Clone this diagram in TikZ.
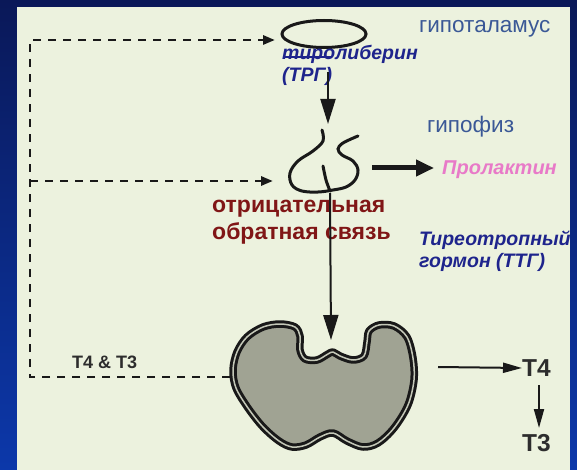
\documentclass[tikz,border=0pt]{standalone}
\usepackage{fontspec}
\setmainfont{Liberation Sans}
\usetikzlibrary{arrows.meta,shapes.geometric}

\definecolor{navytop}{RGB}{10,24,88}
\definecolor{navybot}{RGB}{12,56,170}
\definecolor{panel}{RGB}{236,242,222}
\definecolor{labelblue}{RGB}{58,88,150}
\definecolor{hormblue}{RGB}{30,36,140}
\definecolor{feedred}{RGB}{128,22,22}
\definecolor{prolpink}{RGB}{232,122,200}
\definecolor{glandgray}{RGB}{160,163,147}
\definecolor{glandrim}{RGB}{196,200,184}
\definecolor{ink}{RGB}{25,25,25}
\definecolor{tink}{RGB}{45,45,45}

\tikzset{
  organline/.style={draw=ink, line width=3pt},
  feedback/.style={draw=ink, line width=2.8pt, dash pattern=on 8pt off 7pt},
  feedtip/.style={-{Triangle[length=12pt,width=9pt]}},
  bigarrow/.style={draw=ink, line width=2pt, -{Triangle[length=25pt,width=15pt]}},
  boldarrow/.style={draw=ink, line width=5pt, -{Triangle[length=18pt,width=16pt]}},
  thinarrow/.style={draw=ink, line width=2pt, -{Triangle[length=19pt,width=10pt]}},
  organname/.style={text=labelblue, inner sep=0pt, anchor=west,
    font=\fontsize{22.5}{26}\selectfont},
  hormone/.style={text=hormblue, inner sep=0pt, anchor=north west, align=left,
    font=\fontsize{19.5}{22}\selectfont\bfseries\itshape},
  tlabel/.style={text=tink, inner sep=0pt, anchor=west,
    font=\fontsize{24.5}{28}\selectfont\bfseries},
  gland/.style={smooth cycle, tension=0.55},
}

\begin{document}
\begin{tikzpicture}[x=1pt,y=-1pt]
\useasboundingbox (0,0) rectangle (577,470);
% slide frame and panel
\shade[top color=navytop, bottom color=navybot] (0,0) rectangle (577,470);
\fill[panel] (17,7) rectangle (570,470);

\begin{scope}
\clip (17,7) rectangle (570,470);

% hypothalamus
\node[ellipse, organline, minimum width=84pt, minimum height=27pt, inner sep=0pt]
  (hypo) at (324,34) {};
\node[organname] (hypolabel) at (419,29) {гипоталамус};

% releasing hormone
\node[hormone] (trh) at (282,45) {тиролиберин\\(ТРГ)};
\draw[hormblue, line width=1.6pt] (283,57) -- (331,57);
\coordinate (trhout) at (328,72);

% pituitary
\draw[organline, line cap=round]
  plot[smooth, tension=0.6] coordinates {(322,130) (323,141) (313,151) (298,161)
    (290,173) (292,185) (302,191) (318,192) (333,190) (346,187) (355,180)
    (358,170) (353,161) (342,155) (338,149) (343,143) (358,136)};
\draw[organline, line cap=round]
  plot[smooth] coordinates {(323,166) (326,180) (330,191)};
\coordinate (pittop) at (328,124);
\coordinate (pitbot) at (330,193);
\coordinate (pitleft) at (273,181);
\coordinate (pitright) at (372,168);
\coordinate (prlin) at (434,168);
\node[organname] (pitlabel) at (427,127) {гипофиз};

% prolactin
\node[text=prolpink, inner sep=0pt, anchor=west,
  font=\fontsize{20}{22}\selectfont\bfseries\itshape] (prl) at (442,170) {Пролактин};

% feedback caption
\node[text=feedred, inner sep=0pt, anchor=north west, align=left,
  font=\fontsize{23}{26.5}\selectfont\bfseries] (neg) at (212,200)
  {отрицательная\\обратная связь};

% thyrotropin
\node[hormone] (tsh) at (419,231) {Тиреотропный\\гормон (ТТГ)};

% thyroid gland with a double rim
\def\glandpts{(263,327) (280,324) (295,327)
    (300,336) (300,350) (305,359) (317,360) (328,354) (333,352) (340,356)
    (353,360) (364,356) (367,342) (369,331) (379,325) (394,326) (407,337)
    (413,358) (414,380) (408,405) (394,428) (378,443) (363,447) (347,441)
    (333,433) (320,437) (306,445) (292,447) (279,441) (263,427) (248,408)
    (236,388) (233,370) (237,352) (247,337)}
\path[fill=glandgray] plot[gland] coordinates \glandpts;
\draw[ink, line width=7.5pt, line join=round] plot[gland] coordinates \glandpts;
\draw[glandrim, line width=1.5pt, line join=round] plot[gland] coordinates \glandpts;
\coordinate (thytop) at (331,340);
\coordinate (thyleft) at (230,377);
\coordinate (thyright) at (438,367);

% thyroid hormones
\node[tlabel] (t4) at (522,368) {T4};
\node[tlabel] (t3) at (522,443) {T3};
\node[text=tink, inner sep=0pt, anchor=west,
  font=\fontsize{18}{20}\selectfont\bfseries] (t43) at (72,362) {T4 \& T3};
\coordinate (t4out) at (539,385);
\coordinate (t3in) at (539,428);

% feedback loop
\coordinate (loopbot) at (30,377);
\coordinate (looptop) at (30,40);
\coordinate (loopmid) at (30,181);
\coordinate (hypoin) at (275,40);
\draw[feedback, feedtip] (thyleft) -- (loopbot) -- (looptop) -- (hypoin);
\draw[feedback, feedtip] (loopmid) -- (pitleft);

% main axis
\draw[bigarrow] (trhout) -- (pittop);
\draw[bigarrow] (pitbot) -- (thytop);
\draw[boldarrow] (pitright) -- (prlin);
\draw[thinarrow] (thyright) -- (t4.west);
\draw[thinarrow] (t4out) -- (t3in);

\end{scope}
\end{tikzpicture}
\end{document}
